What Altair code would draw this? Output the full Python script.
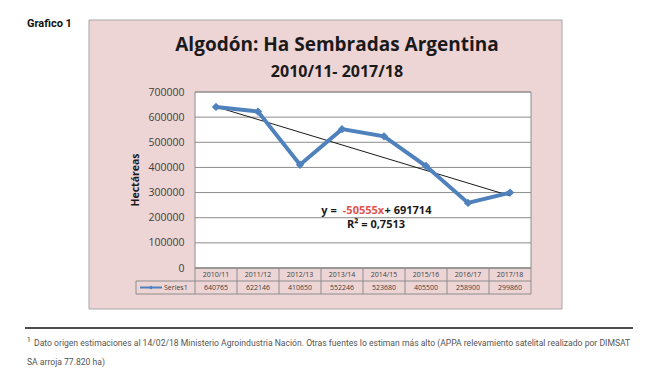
import altair as alt
import pandas as pd

categories = ["2010/11", "2011/12", "2012/13", "2013/14", "2014/15", "2015/16", "2016/17", "2017/18"]
values = [640765, 622146, 410650, 552246, 523680, 405500, 258900, 299860]
y_ticks = [0, 100000, 200000, 300000, 400000, 500000, 600000, 700000]
series_name = "Series1"
title_text = "Algodón: Ha Sembradas Argentina"
subtitle_text = "2010/11- 2017/18"
y_title = "Hectáreas"
eq_parts = ["y = ", "-50555x", "+ 691714"]
r2_text = "R² = 0,7513"
footnote1 = "Dato origen estimaciones al 14/02/18 Ministerio Agroindustria Nación. Otras fuentes lo estiman más alto (APPA relevamiento satelital realizado por  DIMSAT"
footnote2 = "SA arroja 77.820 ha)"

W, H = 336, 176
BLUE = "#4f81bd"
GRID = "#8c8c8c"
PINK = "#eed5d5"
TXT = "#404040"
FONT = "Open Sans"
NARROW = "Roboto"

df = pd.DataFrame({"idx": list(range(1, len(categories) + 1)), "cat": categories, "value": values})
grid_df = pd.DataFrame({"value": y_ticks})
bounds_df = pd.DataFrame({"b": [i + 0.5 for i in range(len(categories) + 1)]})
one = pd.DataFrame({"a": [0]})

xs = alt.Scale(domain=[0.5, len(categories) + 0.5])
ys = alt.Scale(domain=[0, 700000])
yaxis = alt.Axis(values=y_ticks, format="d", grid=False, ticks=False, domain=False,
                 labelPadding=11, labelFont=FONT, labelFontSize=10.5, labelColor=TXT,
                 title=None, zindex=1)
X = alt.X("idx:Q", scale=xs, axis=None)
Y = alt.Y("value:Q", scale=ys, axis=yaxis)


def txt(s, x, y, **kw):
    return alt.Chart(one).mark_text(text=s, **kw).encode(x=alt.value(x), y=alt.value(y))


def hline(x1, x2, y, color=GRID, w=1):
    return alt.Chart(one).mark_rule(color=color, strokeWidth=w).encode(
        x=alt.value(x1), x2=alt.value(x2), y=alt.value(y))


pink = alt.Chart(one).mark_rect(fill=PINK, stroke="#a6a6a6", strokeWidth=1).encode(
    x=alt.value(-106), x2=alt.value(367), y=alt.value(-72), y2=alt.value(217))
plotbg = alt.Chart(one).mark_rect(fill="white", stroke=GRID, strokeWidth=1).encode(
    x=alt.value(0), x2=alt.value(W), y=alt.value(0), y2=alt.value(H))
grid = alt.Chart(grid_df).mark_rule(color=GRID, strokeWidth=1).encode(
    y=alt.Y("value:Q", scale=ys, axis=yaxis), x=alt.value(0), x2=alt.value(W))

trend = alt.Chart(df).transform_regression("idx", "value").mark_line(
    color="#1a1a1a", strokeWidth=1).encode(x=X, y=Y)
line = alt.Chart(df).mark_line(color=BLUE, strokeWidth=4).encode(x=X, y=Y)
pts = alt.Chart(df).mark_point(shape="diamond", filled=True, color=BLUE, size=70, opacity=1).encode(x=X, y=Y)

# data table
vlines = alt.Chart(bounds_df).mark_rule(color=GRID, strokeWidth=1).encode(
    x=alt.X("b:Q", scale=xs, axis=None), y=alt.value(H), y2=alt.value(H + 26))
table_lines = [hline(0, W, H), hline(-59, W, H + 13), hline(-59, W, H + 26)]
leftv = alt.Chart(one).mark_rule(color=GRID, strokeWidth=1).encode(
    x=alt.value(-59), y=alt.value(H + 13), y2=alt.value(H + 26))
cat_txt = alt.Chart(df).mark_text(font=FONT, fontSize=7, color=TXT).encode(
    x=X, y=alt.value(H + 6.5), text="cat:N")
val_txt = alt.Chart(df).mark_text(font=FONT, fontSize=7, color=TXT).encode(
    x=X, y=alt.value(H + 19.5), text=alt.Text("value:Q", format="d"))
leg_line = alt.Chart(one).mark_rule(color=BLUE, strokeWidth=2).encode(
    x=alt.value(-55), x2=alt.value(-33), y=alt.value(H + 19.5))
leg_pt = alt.Chart(one).mark_point(shape="diamond", filled=True, color=BLUE, size=18, opacity=1).encode(
    x=alt.value(-44), y=alt.value(H + 19.5))
leg_txt = txt(series_name, -31, H + 19.5, font=FONT, fontSize=7, color=TXT, align="left")

texts = [
    txt("Grafico 1", -168, -68, font=NARROW, fontSize=11, fontWeight="bold", color="#111", align="left"),
    txt(title_text, 142, -47, font=FONT, fontSize=19, fontWeight="bold", color="#1a1a1a"),
    txt(subtitle_text, 142, -20, font=FONT, fontSize=16, fontWeight="bold", color="#1a1a1a"),
    txt(y_title, -59, 88, font=FONT, fontSize=10.5, fontWeight="bold", color="#1a1a1a", angle=270),
    txt(eq_parts[0], 134, 119, font=FONT, fontSize=11, fontWeight="bold", color="#1a1a1a"),
    txt(eq_parts[1], 168.5, 119, font=FONT, fontSize=11, fontWeight="bold", color="#e0524e"),
    txt(eq_parts[2], 213, 119, font=FONT, fontSize=11, fontWeight="bold", color="#1a1a1a"),
    txt(r2_text, 181, 133, font=FONT, fontSize=11, fontWeight="bold", color="#1a1a1a"),
    hline(-170, 438, 236, color="#111", w=1.5),
    txt("1", -168, 248, font=NARROW, fontSize=6.5, color="#333", align="left"),
    txt(footnote1, -161, 251, font=NARROW, fontSize=8.6, color="#555", align="left"),
    txt(footnote2, -168, 270, font=NARROW, fontSize=8.6, color="#555", align="left"),
]

chart = alt.layer(
    pink, plotbg, grid, trend, line, pts,
    vlines, *table_lines, leftv, cat_txt, val_txt, leg_line, leg_pt, leg_txt,
    *texts,
).properties(
    width=W, height=H, autosize="none",
    padding={"left": 187, "top": 84, "right": 115, "bottom": 99},
    background="white",
).configure_view(stroke=None)

chart.save("out.html", embed_options={"renderer": "svg", "actions": False})
